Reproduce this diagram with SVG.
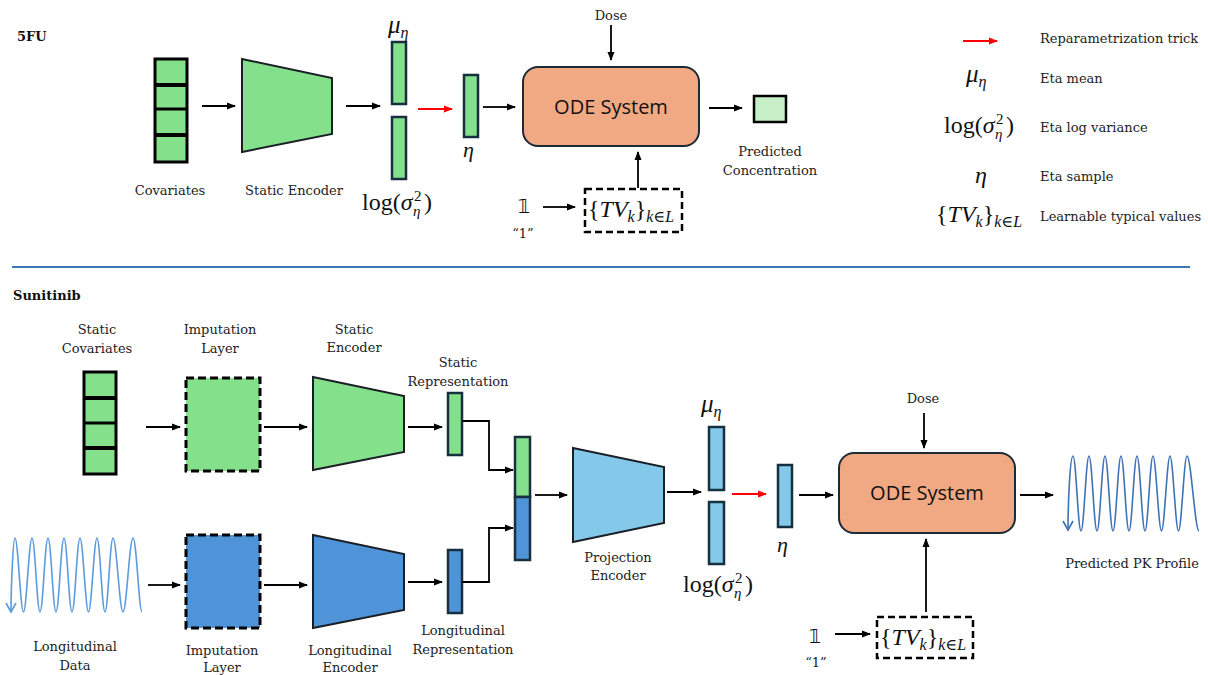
<svg xmlns="http://www.w3.org/2000/svg" width="1208" height="675" viewBox="0 0 1208 675">
<defs>
<marker id="ah" markerWidth="9" markerHeight="8" refX="8" refY="4" orient="auto" markerUnits="userSpaceOnUse"><path d="M0,0.5 L9,4 L0,7.5 z" fill="#000"/></marker>
<marker id="ahr" markerWidth="9" markerHeight="8" refX="8" refY="4" orient="auto" markerUnits="userSpaceOnUse"><path d="M0,0.5 L9,4 L0,7.5 z" fill="#ff0000"/></marker>
<style>
.lbl{font-family:"DejaVu Serif","Liberation Serif",serif;font-size:13px;fill:#222;text-anchor:middle}
.lg{font-family:"DejaVu Serif","Liberation Serif",serif;font-size:13px;fill:#222}
.ttl{font-family:"DejaVu Serif","Liberation Serif",serif;font-size:13px;font-weight:bold;fill:#111}
.m{font-family:"Liberation Serif","DejaVu Serif",serif;fill:#111}
.mi{font-style:italic}
.ode{font-family:"Open Sans","Liberation Sans",sans-serif;font-size:20px;fill:#111;text-anchor:middle}
.one{font-family:"DejaVu Sans","Noto Sans",sans-serif;font-size:19px;fill:#111;text-anchor:middle}
.arr{stroke:#000;stroke-width:1.8;fill:none;marker-end:url(#ah)}
.red{stroke:#ff0000;stroke-width:2;fill:none;marker-end:url(#ahr)}
.g{fill:#84e08b}
.b{fill:#4f93d9}
.lb{fill:#84c9ea}
.bar{stroke:#17303f;stroke-width:2.5}
.enc{stroke:#1a1f26;stroke-width:2}
.stack{fill:#84e08b;stroke:#000;stroke-width:3}
.dash{stroke:#000;stroke-width:3;stroke-dasharray:8 4}
.odebox{fill:#f0a983;stroke:#1c2b36;stroke-width:2}
.tv{fill:#fff;stroke:#000;stroke-width:2.5;stroke-dasharray:7 4}
</style>
</defs>

<!-- ===== 5FU ===== -->
<text class="ttl" x="17" y="41">5FU</text>

<g id="top-covariates">
<rect class="stack" x="155" y="59" width="32" height="103"/>
<line x1="155" y1="85" x2="187" y2="85" stroke="#000" stroke-width="4"/>
<line x1="155" y1="109" x2="187" y2="109" stroke="#000" stroke-width="3"/>
<line x1="155" y1="135" x2="187" y2="135" stroke="#000" stroke-width="4"/>
<text class="lbl" x="170" y="195">Covariates</text>
</g>

<g id="top-static-encoder">
<polygon class="g enc" points="242,59 332,78 332,134 242,152"/>
<text class="lbl" x="294" y="195">Static Encoder</text>
</g>

<g id="top-mu">
<rect class="g bar" x="392" y="42" width="14" height="62"/>
<text class="m" x="388" y="33"><tspan class="mi" font-size="25">μ</tspan><tspan class="mi" font-size="16" dy="5">η</tspan></text>
</g>

<g id="top-logvar">
<rect class="g bar" x="392" y="117" width="14" height="62"/>
<g transform="translate(362,210)">
<text class="m" x="0" y="0" font-size="24">log(<tspan class="mi">σ</tspan></text>
<text class="m" x="52" y="-9" font-size="15">2</text>
<text class="m mi" x="51" y="6" font-size="15">η</text>
<text class="m" x="62" y="0" font-size="24">)</text>
</g>
</g>

<g id="top-eta">
<rect class="g bar" x="464" y="75" width="14" height="62"/>
<text class="m mi" x="463" y="157" font-size="22">η</text>
</g>

<g id="top-ode">
<rect class="odebox" x="523" y="67" width="176" height="79" rx="15"/>
<text class="ode" x="611" y="114">ODE System</text>
</g>

<g id="top-dose"><text class="lbl" x="611" y="20">Dose</text></g>

<g id="top-predicted">
<rect x="754" y="96" width="32" height="26" fill="#c6efc8" stroke="#000" stroke-width="2.5"/>
<text class="lbl" x="770" y="156">Predicted</text>
<text class="lbl" x="770" y="175">Concentration</text>
</g>

<g id="top-one">
<text class="one" x="524" y="213">𝟙</text>
<text class="lbl" x="523" y="238">“1”</text>
</g>

<g id="top-tv">
<rect class="tv" x="585" y="189" width="97" height="43"/>
<text class="m" x="588" y="217" font-size="24">{<tspan class="mi">TV</tspan><tspan class="mi" font-size="16" dy="5">k</tspan><tspan dy="-5">}</tspan><tspan class="mi" font-size="16" dy="5">k∈L</tspan></text>
</g>

<g id="top-connectors">
<line class="arr" x1="202" y1="106" x2="235" y2="106"/>
<line class="arr" x1="346" y1="106" x2="380" y2="106"/>
<line class="red" x1="418" y1="109" x2="452" y2="109"/>
<line class="arr" x1="483" y1="107" x2="515" y2="107"/>
<line class="arr" x1="611" y1="25" x2="611" y2="60"/>
<line class="arr" x1="709" y1="108" x2="742" y2="108"/>
<line class="arr" x1="638" y1="188" x2="638" y2="152"/>
<line class="arr" x1="543" y1="207" x2="575" y2="207"/>
</g>

<!-- ===== Legend ===== -->
<g id="legend">
<line class="red" x1="963" y1="41" x2="997" y2="41"/>
<text class="lg" x="1040" y="43">Reparametrization trick</text>
<text class="m" x="966" y="82"><tspan class="mi" font-size="25">μ</tspan><tspan class="mi" font-size="16" dy="5">η</tspan></text>
<text class="lg" x="1040" y="83">Eta mean</text>
<g transform="translate(944,133)">
<text class="m" x="0" y="0" font-size="24">log(<tspan class="mi">σ</tspan></text>
<text class="m" x="52" y="-9" font-size="15">2</text>
<text class="m mi" x="51" y="6" font-size="15">η</text>
<text class="m" x="62" y="0" font-size="24">)</text>
</g>
<text class="lg" x="1040" y="132">Eta log variance</text>
<text class="m mi" x="975" y="183" font-size="24">η</text>
<text class="lg" x="1040" y="181">Eta sample</text>
<text class="m" x="936" y="222" font-size="24">{<tspan class="mi">TV</tspan><tspan class="mi" font-size="16" dy="5">k</tspan><tspan dy="-5">}</tspan><tspan class="mi" font-size="16" dy="5">k∈L</tspan></text>
<text class="lg" x="1040" y="221">Learnable typical values</text>
</g>

<line x1="12" y1="267" x2="1190" y2="267" stroke="#3c78b5" stroke-width="2"/>

<!-- ===== Sunitinib ===== -->
<text class="ttl" x="13" y="300">Sunitinib</text>

<g id="static-covariates">
<rect class="stack" x="84" y="372" width="32" height="102"/>
<line x1="84" y1="398" x2="116" y2="398" stroke="#000" stroke-width="4"/>
<line x1="84" y1="423" x2="116" y2="423" stroke="#000" stroke-width="3"/>
<line x1="84" y1="448" x2="116" y2="448" stroke="#000" stroke-width="4"/>
<text class="lbl" x="97" y="334">Static</text>
<text class="lbl" x="97" y="353">Covariates</text>
</g>

<g id="static-imputation">
<rect class="g dash" x="186" y="378" width="74" height="93"/>
<text class="lbl" x="220" y="334">Imputation</text>
<text class="lbl" x="220" y="353">Layer</text>
</g>

<g id="static-encoder">
<polygon class="g enc" points="313,377 404,396 404,452 313,470"/>
<text class="lbl" x="354" y="334">Static</text>
<text class="lbl" x="354" y="352">Encoder</text>
</g>

<g id="static-rep">
<rect class="g bar" x="448" y="393" width="14" height="62"/>
<text class="lbl" x="458" y="367">Static</text>
<text class="lbl" x="458" y="386">Representation</text>
</g>

<g id="longitudinal-data">
<path d="M11,612 C11,590 13,538 15,538 C18,538 20.5,612 23.5,612 C26.5,612 29,538 32,538 C35,538 37,612 40,612 C43,612 45,538 48,538 C51,538 53,612 56,612 C59,612 61,538 64,538 C67,538 69,612 72,612 C75,612 77,538 80,538 C83,538 85.5,612 88.5,612 C91.5,612 94,538 97,538 C100,538 102,612 105,612 C108,612 110,538 113,538 C116.5,538 119.5,612 123,612 C126.5,612 129.5,538 133,538 C136.5,538 139,612 142,612" fill="none" stroke="#5b9bdc" stroke-width="1.6"/>
<polyline points="6,603 11,612 16,603" fill="none" stroke="#5b9bdc" stroke-width="1.6"/>
<text class="lbl" x="75" y="651">Longitudinal</text>
<text class="lbl" x="75" y="670">Data</text>
</g>

<g id="long-imputation">
<rect class="b dash" x="186" y="535" width="74" height="93"/>
<text class="lbl" x="222" y="655">Imputation</text>
<text class="lbl" x="222" y="672">Layer</text>
</g>

<g id="long-encoder">
<polygon class="b enc" points="313,535 404,554 404,610 313,628"/>
<text class="lbl" x="350" y="655">Longitudinal</text>
<text class="lbl" x="350" y="672">Encoder</text>
</g>

<g id="long-rep">
<rect class="b bar" x="448" y="550" width="14" height="63"/>
<text class="lbl" x="463" y="635">Longitudinal</text>
<text class="lbl" x="463" y="654">Representation</text>
</g>

<g id="concat">
<rect class="g bar" x="515" y="437" width="15" height="60"/>
<rect class="b bar" x="515" y="497" width="15" height="63"/>
</g>

<g id="projection-encoder">
<polygon class="lb enc" points="573,448 664,467 664,523 573,542"/>
<text class="lbl" x="618" y="562">Projection</text>
<text class="lbl" x="618" y="580">Encoder</text>
</g>

<g id="bot-mu">
<rect class="lb bar" x="709" y="427" width="15" height="63"/>
<text class="m" x="701" y="412"><tspan class="mi" font-size="25">μ</tspan><tspan class="mi" font-size="16" dy="5">η</tspan></text>
</g>

<g id="bot-logvar">
<rect class="lb bar" x="709" y="502" width="15" height="62"/>
<g transform="translate(683,592)">
<text class="m" x="0" y="0" font-size="24">log(<tspan class="mi">σ</tspan></text>
<text class="m" x="52" y="-9" font-size="15">2</text>
<text class="m mi" x="51" y="6" font-size="15">η</text>
<text class="m" x="62" y="0" font-size="24">)</text>
</g>
</g>

<g id="bot-eta">
<rect class="lb bar" x="778" y="465" width="14" height="62"/>
<text class="m mi" x="777" y="552" font-size="22">η</text>
</g>

<g id="bot-ode">
<rect class="odebox" x="839" y="453" width="176" height="80" rx="15"/>
<text class="ode" x="927" y="500">ODE System</text>
</g>

<g id="bot-dose"><text class="lbl" x="923" y="403">Dose</text></g>

<g id="pk-profile">
<path d="M1068,530 C1068,505 1070,456 1073,456 C1076,456 1078,531 1081,531 C1084,531 1086,456 1089,456 C1092,456 1094,531 1097,531 C1100,531 1102,456 1105,456 C1108,456 1110,531 1113,531 C1116,531 1118,456 1121,456 C1124,456 1126,531 1129,531 C1132,531 1134,456 1137,456 C1140,456 1142,531 1145,531 C1148,531 1150,456 1153,456 C1156,456 1158.5,531 1161.5,531 C1164.5,531 1167,456 1170,456 C1173,456 1175.5,531 1178.5,531 C1181.5,531 1184,456 1187,456 C1191,456 1195,531 1199,531" fill="none" stroke="#3d72b4" stroke-width="1.6"/>
<polyline points="1063,521 1068,530 1073,521" fill="none" stroke="#3d72b4" stroke-width="1.6"/>
<text class="lbl" x="1132" y="568">Predicted PK Profile</text>
</g>

<g id="bot-one">
<text class="one" x="815" y="643">𝟙</text>
<text class="lbl" x="816" y="667">“1”</text>
</g>

<g id="bot-tv">
<rect class="tv" x="877" y="617" width="96" height="41"/>
<text class="m" x="880" y="645" font-size="24">{<tspan class="mi">TV</tspan><tspan class="mi" font-size="16" dy="5">k</tspan><tspan dy="-5">}</tspan><tspan class="mi" font-size="16" dy="5">k∈L</tspan></text>
</g>

<g id="bottom-connectors">
<line class="arr" x1="146" y1="427" x2="180" y2="427"/>
<line class="arr" x1="264" y1="427" x2="307" y2="427"/>
<line class="arr" x1="408" y1="427" x2="442" y2="427"/>
<line class="arr" x1="148" y1="585" x2="180" y2="585"/>
<line class="arr" x1="264" y1="585" x2="307" y2="585"/>
<line class="arr" x1="408" y1="582" x2="442" y2="582"/>
<polyline class="arr" points="462,421 489,421 489,470 513,470"/>
<polyline class="arr" points="462,582 489,582 489,528 513,528"/>
<line class="arr" x1="535" y1="495" x2="567" y2="495"/>
<line class="arr" x1="667" y1="492" x2="701" y2="492"/>
<line class="red" x1="732" y1="494" x2="766" y2="494"/>
<line class="arr" x1="799" y1="495" x2="833" y2="495"/>
<line class="arr" x1="924" y1="413" x2="924" y2="448"/>
<line class="arr" x1="1020" y1="495" x2="1053" y2="495"/>
<line class="arr" x1="926" y1="612" x2="926" y2="539"/>
<line class="arr" x1="835" y1="634" x2="870" y2="634"/>
</g>
</svg>
